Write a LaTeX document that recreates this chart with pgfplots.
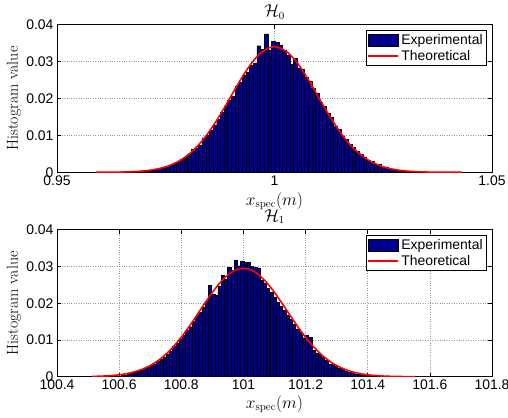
\documentclass[border=0pt]{standalone}
\usepackage{fontspec}
\usepackage{pgfplots}
\pgfplotsset{compat=1.18}
\newfontfamily\helv{Liberation Sans}
\definecolor{histblue}{rgb}{0,0,0.56}

\pgfplotsset{mstyle/.style={
  scale only axis, width=435bp,
  tick align=inside, major tick length=4bp,
  grid=major, major grid style={dotted, gray!80, line width=0.5bp},
  axis line style={line width=0.6bp},
  every tick/.style={black, line width=0.5bp},
  ymin=0, ymax=0.04, ytick={0,0.01,0.02,0.03,0.04},
  scaled ticks=false,
  yticklabel style={/pgf/number format/fixed, /pgf/number format/precision=2},
  /pgf/number format/assume math mode=true,
  tick label style={font=\helv\fontsize{14}{14}\selectfont},
  ylabel={Histogram value},
  ylabel style={font=\fontsize{16}{16}\selectfont, at={(axis description cs:-0.099,0.5)}, anchor=center},
  xlabel={$x_{\mathrm{spec}}(m)$},
  xlabel style={font=\fontsize{16}{16}\selectfont, anchor=center},
  every axis title shift=0pt,
  title style={font=\fontsize{16}{16}\selectfont, anchor=center},
  legend cell align=left,
  legend style={at={(rel axis cs:0.9878,0.964)}, anchor=north east, draw=black, line width=0.6bp,
    font=\helv\fontsize{14}{14}\selectfont, inner sep=1.5bp, nodes={inner sep=2.2bp}, row sep=0bp},
}}

\begin{document}
\begin{tikzpicture}
\useasboundingbox (-57bp,-245.7bp) rectangle (451bp,172.3bp);
% ---------------- top: H0 ----------------
\begin{axis}[mstyle, height=147.6bp, at={(0bp,0bp)}, anchor=south west,
  xmin=0.95, xmax=1.05, xtick={0.95,1,1.05},
  title={$\mathcal{H}_0$}, title style={at={(axis description cs:0.5,1.086)}},
  xlabel style={at={(axis description cs:0.5,-0.1944)}},
]
\addplot[ybar, bar width=0.00084, fill=histblue, draw=black, line width=0.4bp,
  legend image code/.code={\draw[fill=histblue, draw=black, line width=0.5bp] (0bp,-6bp) rectangle (30bp,6bp);}]
table {
x y
0.95942 0.0001
0.96026 0.0000
0.96110 0.0000
0.96194 0.0000
0.96278 0.0000
0.96362 0.0001
0.96446 0.0000
0.96530 0.0001
0.96614 0.0001
0.96698 0.0002
0.96782 0.0001
0.96866 0.0003
0.96950 0.0004
0.97034 0.0003
0.97118 0.0006
0.97202 0.0006
0.97286 0.0009
0.97370 0.0010
0.97454 0.0014
0.97538 0.0015
0.97622 0.0019
0.97706 0.0025
0.97790 0.0027
0.97874 0.0036
0.97958 0.0040
0.98042 0.0048
0.98126 0.0062
0.98210 0.0066
0.98294 0.0073
0.98378 0.0093
0.98462 0.0100
0.98546 0.0115
0.98630 0.0128
0.98714 0.0143
0.98798 0.0162
0.98882 0.0180
0.98966 0.0196
0.99050 0.0205
0.99134 0.0232
0.99218 0.0244
0.99302 0.0262
0.99386 0.0270
0.99470 0.0290
0.99554 0.0296
0.99638 0.0343
0.99722 0.0334
0.99806 0.0375
0.99890 0.0332
0.99974 0.0354
1.00058 0.0352
1.00142 0.0345
1.00226 0.0330
1.00310 0.0318
1.00394 0.0293
1.00478 0.0309
1.00562 0.0283
1.00646 0.0279
1.00730 0.0258
1.00814 0.0248
1.00898 0.0228
1.00982 0.0214
1.01066 0.0190
1.01150 0.0178
1.01234 0.0160
1.01318 0.0148
1.01402 0.0125
1.01486 0.0116
1.01570 0.0098
1.01654 0.0089
1.01738 0.0076
1.01822 0.0067
1.01906 0.0057
1.01990 0.0048
1.02074 0.0042
1.02158 0.0033
1.02242 0.0030
1.02326 0.0022
1.02410 0.0021
1.02494 0.0014
1.02578 0.0013
1.02662 0.0009
1.02746 0.0008
1.02830 0.0005
1.02914 0.0006
1.02998 0.0003
1.03082 0.0003
1.03166 0.0002
1.03250 0.0001
1.03334 0.0002
1.03418 0.0000
1.03502 0.0001
1.03586 0.0000
1.03670 0.0001
1.03754 0.0000
1.03838 0.0000
1.03922 0.0001
1.04006 0.0000
1.04090 0.0000
1.04174 0.0000
1.04258 0.0001
};
\addlegendentry{Experimental}
\addplot[red, line width=1.6bp, smooth, mark=none,
  legend image code/.code={\draw[red, line width=1.6bp] (0bp,0bp) -- (30bp,0bp);}]
table {
x y
0.959 0.0000076
0.961 0.0000169
0.963 0.0000362
0.965 0.0000744
0.967 0.000147
0.969 0.000278
0.971 0.000507
0.973 0.000888
0.975 0.001494
0.977 0.002414
0.979 0.003750
0.981 0.005593
0.983 0.008014
0.985 0.011040
0.987 0.014606
0.989 0.018567
0.991 0.022678
0.993 0.026612
0.995 0.030005
0.997 0.032504
0.999 0.033830
1.000 0.034000
1.001 0.033830
1.003 0.032504
1.005 0.030005
1.007 0.026612
1.009 0.022678
1.011 0.018567
1.013 0.014606
1.015 0.011040
1.017 0.008014
1.019 0.005593
1.021 0.003750
1.023 0.002414
1.025 0.001494
1.027 0.000888
1.029 0.000507
1.031 0.000278
1.033 0.000147
1.035 0.0000744
1.037 0.0000362
1.039 0.0000169
1.041 0.0000076
1.043 0.0000033
};
\addlegendentry{Theoretical}
\end{axis}
% ---------------- bottom: H1 ----------------
\begin{axis}[mstyle, height=147bp, at={(0bp,-204.4bp)}, anchor=south west,
  xmin=100.4, xmax=101.8, xtick={100.4,100.6,100.8,101,101.2,101.4,101.6,101.8},
  title={$\mathcal{H}_1$}, title style={at={(axis description cs:0.5,1.088)}},
  xlabel style={at={(axis description cs:0.5,-0.1857)}},
]
\addplot[ybar, bar width=0.01041, fill=histblue, draw=black, line width=0.4bp,
  legend image code/.code={\draw[fill=histblue, draw=black, line width=0.5bp] (0bp,-6bp) rectangle (30bp,6bp);}]
table {
x y
100.5172 0.0001
100.5276 0.0000
100.5380 0.0000
100.5484 0.0001
100.5588 0.0000
100.5693 0.0001
100.5797 0.0001
100.5901 0.0002
100.6005 0.0002
100.6109 0.0003
100.6213 0.0005
100.6317 0.0006
100.6421 0.0010
100.6525 0.0012
100.6629 0.0014
100.6734 0.0017
100.6838 0.0023
100.6942 0.0025
100.7046 0.0031
100.7150 0.0035
100.7254 0.0041
100.7358 0.0048
100.7462 0.0054
100.7566 0.0062
100.7670 0.0070
100.7775 0.0082
100.7879 0.0092
100.7983 0.0103
100.8087 0.0113
100.8191 0.0126
100.8295 0.0136
100.8399 0.0150
100.8503 0.0165
100.8607 0.0176
100.8711 0.0190
100.8816 0.0205
100.8920 0.0248
100.9024 0.0224
100.9128 0.0222
100.9232 0.0245
100.9336 0.0276
100.9440 0.0265
100.9544 0.0298
100.9648 0.0290
100.9752 0.0318
100.9857 0.0302
100.9961 0.0315
101.0065 0.0311
101.0169 0.0312
101.0273 0.0301
101.0377 0.0298
101.0481 0.0296
101.0585 0.0262
101.0689 0.0255
101.0793 0.0240
101.0898 0.0230
101.1002 0.0217
101.1106 0.0203
101.1210 0.0192
101.1314 0.0180
101.1418 0.0168
101.1522 0.0156
101.1626 0.0143
101.1730 0.0130
101.1834 0.0120
101.1939 0.0106
101.2043 0.0112
101.2147 0.0108
101.2251 0.0072
101.2355 0.0065
101.2459 0.0060
101.2563 0.0052
101.2667 0.0045
101.2771 0.0033
101.2875 0.0034
101.2980 0.0028
101.3084 0.0024
101.3188 0.0020
101.3292 0.0016
101.3396 0.0012
101.3500 0.0011
101.3604 0.0008
101.3708 0.0006
101.3812 0.0005
101.3916 0.0004
101.4021 0.0003
101.4125 0.0004
101.4229 0.0002
101.4333 0.0002
101.4437 0.0001
101.4541 0.0001
101.4645 0.0002
101.4749 0.0000
101.4853 0.0001
101.4957 0.0000
101.5062 0.0000
101.5166 0.0000
101.5270 0.0000
101.5374 0.0000
101.5478 0.0001
};
\addlegendentry{Experimental}
\addplot[red, line width=1.6bp, smooth, mark=none,
  legend image code/.code={\draw[red, line width=1.6bp] (0bp,0bp) -- (30bp,0bp);}]
table {
x y
100.512 0.0000720
100.525 0.0000988
100.550 0.000177
100.575 0.000308
100.600 0.000519
100.625 0.000846
100.650 0.001337
100.675 0.002047
100.700 0.003038
100.725 0.004369
100.750 0.006083
100.775 0.008213
100.800 0.010744
100.825 0.013608
100.850 0.016712
100.875 0.019880
100.900 0.022916
100.925 0.025591
100.950 0.027695
100.975 0.029037
101.000 0.029500
101.025 0.029037
101.050 0.027695
101.075 0.025591
101.100 0.022916
101.125 0.019880
101.150 0.016712
101.175 0.013608
101.200 0.010744
101.225 0.008213
101.250 0.006083
101.275 0.004369
101.300 0.003038
101.325 0.002047
101.350 0.001337
101.375 0.000846
101.400 0.000519
101.425 0.000308
101.450 0.000177
101.475 0.0000988
101.500 0.0000534
101.525 0.000028
101.553 0.000013
};
\addlegendentry{Theoretical}
\end{axis}
\end{tikzpicture}
\end{document}
